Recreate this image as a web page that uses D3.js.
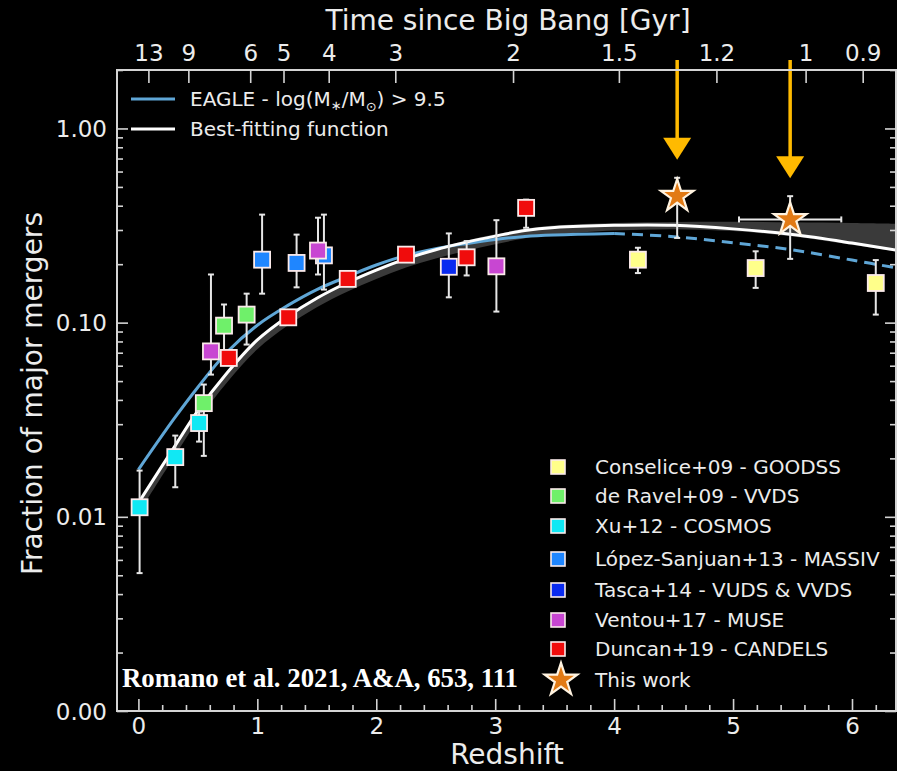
<!DOCTYPE html>
<html>
<head>
<meta charset="utf-8">
<script src="https://cdn.jsdelivr.net/npm/d3@7"></script>
<style>
  body { margin: 0; background: #000; }
  svg { display: block; font-family: "DejaVu Sans", sans-serif; }
</style>
</head>
<body>
<div id="chart"></div>
<script>
// curves
var curveZ   = [0, 0.3, 0.5, 0.75, 1.0, 1.25, 1.5, 1.75, 2.0, 2.25, 2.5, 2.75, 3.0, 3.25, 3.5, 4.0, 4.5, 5.0, 5.5, 6.0, 6.4];
var bestFit  = [0.0118, 0.0228, 0.0352, 0.0555, 0.0815, 0.107, 0.1335, 0.160, 0.1865, 0.213, 0.2375, 0.259, 0.279, 0.298, 0.309, 0.317, 0.317, 0.304, 0.284, 0.257, 0.235];
var bandLow  = [0.0104, 0.0203, 0.0314, 0.0496, 0.073, 0.096, 0.120, 0.144, 0.168, 0.192, 0.214, 0.234, 0.253, 0.272, 0.284, 0.298, 0.303, 0.296, 0.278, 0.252, 0.231];
var bandHigh = [0.0120, 0.0231, 0.0357, 0.0563, 0.0827, 0.109, 0.136, 0.163, 0.190, 0.217, 0.242, 0.264, 0.285, 0.304, 0.316, 0.326, 0.330, 0.331, 0.329, 0.326, 0.323];
var eagle    = [0.0175, 0.032, 0.0465, 0.071, 0.097, 0.122, 0.148, 0.172, 0.198, 0.222, 0.2405, 0.255, 0.268, 0.278, 0.283, 0.288, 0.277, 0.258, 0.237, 0.21, 0.19];
var eagleSolidMax = 4.0;

// literature points
var conseliceZ = [4.2, 5.19, 6.2],  conseliceF = [0.211, 0.191, 0.160];
var conseliceLo = [0.180, 0.151, 0.110], conseliceHi = [0.243, 0.233, 0.210];
var deRavelZ = [0.55, 0.72, 0.91], deRavelF = [0.0385, 0.0965, 0.110];
var deRavelLo = [0.0206, 0.0668, 0.0771], deRavelHi = [0.048, 0.124, 0.141];
var xuZ = [0.01, 0.31, 0.51], xuF = [0.0112, 0.0203, 0.0304];
var xuLo = [0.00513, 0.0142, 0.0244], xuHi = [0.0173, 0.0262, 0.0349];
var lopezZ = [1.04, 1.33, 1.56], lopezF = [0.211, 0.203, 0.222];
var lopezLo = [0.141, 0.152, 0.148], lopezHi = [0.360, 0.284, 0.360];
var tascaZ = [2.61], tascaF = [0.194], tascaLo = [0.135], tascaHi = [0.288];
var ventouZ = [0.61, 1.51, 3.01], ventouF = [0.0711, 0.235, 0.195];
var ventouLo = [0.054, 0.177, 0.114], ventouHi = [0.177, 0.347, 0.337];
var duncanZ = [0.76, 1.26, 1.76, 2.25, 2.76, 3.26], duncanF = [0.0658, 0.1065, 0.168, 0.224, 0.217, 0.390];
var duncanLo = [0.061, 0.100, 0.160, 0.213, 0.175, 0.308], duncanHi = [0.071, 0.113, 0.176, 0.235, 0.263, 0.43];

// this work
var starZ = [4.53, 5.48], starF = [0.448, 0.340];
var starLo = [0.273, 0.213], starHi = [0.557, 0.448];
var starZLo = [4.53, 5.05], starZHi = [4.53, 5.91];

// top axis: age of universe and where it falls in redshift
var ageLabels = ["13", "9", "6", "5", "4", "3", "2", "1.5", "1.2", "1", "0.9"];
var ageZ = [0.084, 0.42, 0.94, 1.22, 1.60, 2.16, 3.15, 4.04, 4.86, 5.61, 6.09];

var yTicks = [0.001, 0.01, 0.1, 1];
var xTicks = [0, 1, 2, 3, 4, 5, 6];

var surveyNames = ["Conselice+09 - GOODSS", "de Ravel+09 - VVDS", "Xu+12 - COSMOS", "López-Sanjuan+13 - MASSIV",
                   "Tasca+14 - VUDS & VVDS", "Ventou+17 - MUSE", "Duncan+19 - CANDELS"];
var surveyColors = ["#ffff8a", "#6ff06a", "#10e8f4", "#1f86ff", "#0a2af0", "#c846d2", "#f00c0c"];

var W = 897, H = 771;
// plot box (window.top is read-only, so no plain "top")
var box = {left: 117, right: 896, top: 70, bottom: 711};

var svg = d3.select("#chart").append("svg")
  .attr("width", W).attr("height", H);
svg.append("rect").attr("width", W).attr("height", H).attr("fill", "#000");

var x = d3.scaleLinear().domain([-0.18, 6.37]).range([box.left, box.right]);
var y = d3.scaleLog().domain([0.001, 2.0]).range([box.bottom, box.top]);

var axisCol = "#d4d4d4";
var smooth = d3.curveCatmullRom.alpha(0.5);

// uncertainty band of the fit
var band = curveZ.map(function(z, i) { return {z: z, lo: bandLow[i], hi: bandHigh[i]}; });
svg.append("path")
  .datum(band)
  .attr("fill", "#3a3a3a")
  .attr("d", d3.area().curve(smooth)
    .x(function(d) { return x(d.z); })
    .y0(function(d) { return y(d.lo); })
    .y1(function(d) { return y(d.hi); }));

// EAGLE curve, solid up to z=4 then dashed
var eagleData = curveZ.map(function(z, i) { return {z: z, f: eagle[i]}; });
var line = d3.line().curve(smooth)
  .x(function(d) { return x(d.z); })
  .y(function(d) { return y(d.f); });
svg.append("path")
  .datum(eagleData.filter(function(d) { return d.z <= eagleSolidMax; }))
  .attr("fill", "none").attr("stroke", "#5fa6d6").attr("stroke-width", 3)
  .attr("d", line);
svg.append("path")
  .datum(eagleData.filter(function(d) { return d.z >= eagleSolidMax; }))
  .attr("fill", "none").attr("stroke", "#5fa6d6").attr("stroke-width", 3)
  .attr("stroke-dasharray", "11,7")
  .attr("d", line);

// best fitting function
svg.append("path")
  .datum(curveZ.map(function(z, i) { return {z: z, f: bestFit[i]}; }))
  .attr("fill", "none").attr("stroke", "#ffffff").attr("stroke-width", 3)
  .attr("d", line);

// literature points
var surveys = [
  [conseliceZ, conseliceF, conseliceLo, conseliceHi],
  [deRavelZ, deRavelF, deRavelLo, deRavelHi],
  [xuZ, xuF, xuLo, xuHi],
  [lopezZ, lopezF, lopezLo, lopezHi],
  [tascaZ, tascaF, tascaLo, tascaHi],
  [ventouZ, ventouF, ventouLo, ventouHi],
  [duncanZ, duncanF, duncanLo, duncanHi]
];

var errCol = "#e6e6e6";
var sq = 16;
function errBar(g, cx, y0, y1) {
  g.append("line").attr("x1", cx).attr("x2", cx).attr("y1", y0).attr("y2", y1)
    .attr("stroke", errCol).attr("stroke-width", 2);
  [y0, y1].forEach(function(yy) {
    g.append("line").attr("x1", cx - 3).attr("x2", cx + 3).attr("y1", yy).attr("y2", yy)
      .attr("stroke", errCol).attr("stroke-width", 2);
  });
}

surveys.forEach(function(s, k) {
  var g = svg.append("g");
  s[0].forEach(function(z, i) {
    errBar(g, x(z), y(s[2][i]), y(s[3][i]));
  });
  s[0].forEach(function(z, i) {
    g.append("rect")
      .attr("x", x(z) - sq / 2).attr("y", y(s[1][i]) - sq / 2)
      .attr("width", sq).attr("height", sq)
      .attr("fill", surveyColors[k])
      .attr("stroke", "#fbeaea").attr("stroke-width", 1.8);
  });
});

// this work: stars + arrows
var starSym = d3.symbol().type(d3.symbolStar).size(330);
var gs = svg.append("g");
starZ.forEach(function(z, i) {
  errBar(gs, x(z), y(starLo[i]), y(starHi[i]));
  if (starZHi[i] > starZLo[i]) {
    gs.append("line").attr("x1", x(starZLo[i])).attr("x2", x(starZHi[i]))
      .attr("y1", y(starF[i])).attr("y2", y(starF[i]))
      .attr("stroke", errCol).attr("stroke-width", 2);
    [starZLo[i], starZHi[i]].forEach(function(zz) {
      gs.append("line").attr("x1", x(zz)).attr("x2", x(zz))
        .attr("y1", y(starF[i]) - 3).attr("y2", y(starF[i]) + 3)
        .attr("stroke", errCol).attr("stroke-width", 2);
    });
  }
});
starZ.forEach(function(z, i) {
  gs.append("path").attr("d", starSym)
    .attr("transform", "translate(" + x(z) + "," + y(starF[i]) + ")")
    .attr("fill", "#e27a14").attr("stroke", "#fff3e0").attr("stroke-width", 2.2);
  var tip = y(starHi[i]) - 18, cx = x(z);
  gs.append("line").attr("x1", cx).attr("x2", cx).attr("y1", 60).attr("y2", tip - 20)
    .attr("stroke", "#ffba00").attr("stroke-width", 3.5);
  gs.append("path")
    .attr("d", "M" + (cx - 14) + "," + (tip - 22) + "L" + (cx + 14) + "," + (tip - 22) + "L" + cx + "," + tip + "Z")
    .attr("fill", "#ffba00");
});

// axes
function styleAxis(g) {
  g.select(".domain").remove();
  g.selectAll(".tick line").attr("stroke", axisCol).attr("stroke-width", 1.6);
  g.selectAll(".tick text").attr("fill", "#ececec").attr("font-family", "DejaVu Sans, sans-serif");
}

// minor tick values
var yMinor = [];
[0.001, 0.01, 0.1, 1].forEach(function(d) {
  for (var m = 2; m <= 9; m++) { if (d * m <= 2.0) yMinor.push(d * m); }
});
var xMinor = d3.range(0, 6.4, 0.2).filter(function(v) { return Math.abs(v - Math.round(v)) > 0.01; });

var gy = svg.append("g").attr("transform", "translate(" + box.left + ",0)")
  .call(d3.axisLeft(y).tickValues(yTicks).tickFormat(d3.format(".2f")).tickSize(-11).tickPadding(10));
styleAxis(gy);
gy.selectAll(".tick text").attr("font-size", 23).attr("dy", "0.35em");
var gym = svg.append("g").attr("transform", "translate(" + box.left + ",0)")
  .call(d3.axisLeft(y).tickValues(yMinor).tickFormat("").tickSize(-6));
styleAxis(gym);

var gyr = svg.append("g").attr("transform", "translate(" + box.right + ",0)")
  .call(d3.axisRight(y).tickValues(yTicks).tickFormat("").tickSize(-11));
styleAxis(gyr);
var gyrm = svg.append("g").attr("transform", "translate(" + box.right + ",0)")
  .call(d3.axisRight(y).tickValues(yMinor).tickFormat("").tickSize(-6));
styleAxis(gyrm);

var gx = svg.append("g").attr("transform", "translate(0," + box.bottom + ")")
  .call(d3.axisBottom(x).tickValues(xTicks).tickFormat(d3.format("d")).tickSize(-12).tickPadding(7));
styleAxis(gx);
gx.selectAll(".tick text").attr("font-size", 23);
var gxm = svg.append("g").attr("transform", "translate(0," + box.bottom + ")")
  .call(d3.axisBottom(x).tickValues(xMinor).tickFormat("").tickSize(-6));
styleAxis(gxm);

var gt = svg.append("g").attr("transform", "translate(0," + box.top + ")")
  .call(d3.axisTop(x).tickValues(ageZ)
    .tickFormat(function(d, i) { return ageLabels[i]; })
    .tickSize(-13).tickPadding(9));
styleAxis(gt);
gt.selectAll(".tick text").attr("font-size", 23);

// spines
svg.append("rect")
  .attr("x", box.left).attr("y", box.top).attr("width", box.right - box.left).attr("height", box.bottom - box.top)
  .attr("fill", "none").attr("stroke", axisCol).attr("stroke-width", 2);

// axis titles
svg.append("text").attr("x", 507).attr("y", 764)
  .attr("text-anchor", "middle").attr("fill", "#ececec").attr("font-size", 28)
  .text("Redshift");
svg.append("text").attr("x", 508).attr("y", 30)
  .attr("text-anchor", "middle").attr("fill", "#ececec").attr("font-size", 28)
  .text("Time since Big Bang [Gyr]");
svg.append("text")
  .attr("transform", "translate(42," + ((box.top + box.bottom) / 2 + 3) + ") rotate(-90)")
  .attr("text-anchor", "middle").attr("fill", "#ececec").attr("font-size", 28)
  .text("Fraction of major mergers");

// top-left legend
var lg = svg.append("g").attr("font-size", 20).attr("fill", "#ececec");
lg.append("line").attr("x1", 131).attr("x2", 175).attr("y1", 99).attr("y2", 99)
  .attr("stroke", "#5fa6d6").attr("stroke-width", 3);
lg.append("line").attr("x1", 131).attr("x2", 175).attr("y1", 129).attr("y2", 129)
  .attr("stroke", "#ffffff").attr("stroke-width", 3);
var t1 = lg.append("text").attr("x", 190).attr("y", 106);
t1.append("tspan").text("EAGLE - log(M");
t1.append("tspan").attr("font-size", 13).attr("dy", 4).text("∗");
t1.append("tspan").attr("dy", -4).text("/M");
t1.append("tspan").attr("font-size", 13).attr("dy", 5).text("⊙");
t1.append("tspan").attr("dy", -5).text(") > 9.5");
lg.append("text").attr("x", 190).attr("y", 136).text("Best-fitting function");

// bottom-right legend
var rowY = [467, 496, 526, 559, 590, 620, 649, 680];
var lr = svg.append("g").attr("font-size", 20).attr("fill", "#ececec");
surveyNames.forEach(function(name, i) {
  lr.append("rect").attr("x", 558 - 7).attr("y", rowY[i] - 7).attr("width", 14).attr("height", 14)
    .attr("fill", surveyColors[i]).attr("stroke", "#fbeaea").attr("stroke-width", 1.6);
  lr.append("text").attr("x", 595).attr("y", rowY[i] + 7).text(name);
});
lr.append("path").attr("d", starSym)
  .attr("transform", "translate(561," + rowY[7] + ")")
  .attr("fill", "#e27a14").attr("stroke", "#fff3e0").attr("stroke-width", 2.2);
lr.append("text").attr("x", 595).attr("y", rowY[7] + 7).text("This work");

// citation
svg.append("text").attr("x", 122).attr("y", 687)
  .attr("font-family", "Liberation Serif, Times New Roman, serif")
  .attr("font-weight", "bold").attr("font-size", 26.8).attr("fill", "#ffffff")
  .text("Romano et al. 2021, A&A, 653, 111");
</script>
</body>
</html>
